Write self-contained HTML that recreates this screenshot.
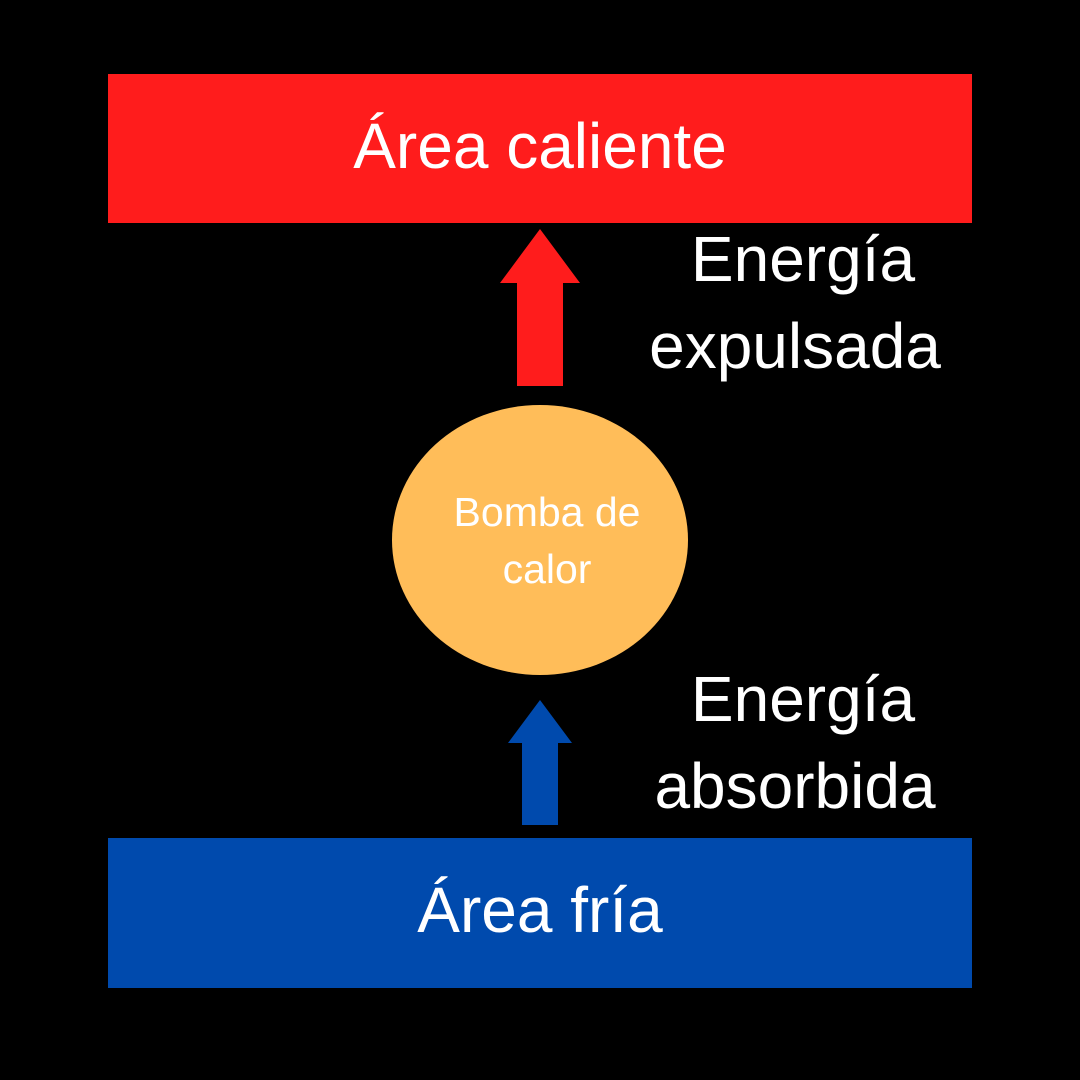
<!DOCTYPE html>
<html><head><meta charset="utf-8"><style>
html,body{margin:0;padding:0;background:#000;}
body{width:1080px;height:1080px;position:relative;overflow:hidden;font-family:"Liberation Sans",sans-serif;color:#fff;}
.t{position:absolute;text-align:center;white-space:nowrap;}
</style></head><body>
<div style="position:absolute;left:108px;top:74px;width:864px;height:149px;background:#ff1c1c"></div>
<div class="t" style="left:108px;width:864px;top:110px;font-size:64px;line-height:72px">Área caliente</div>
<div style="position:absolute;left:108px;top:838px;width:864px;height:150px;background:#004aad"></div>
<div class="t" style="left:108px;width:864px;top:874px;font-size:64px;line-height:72px">Área fría</div>
<svg style="position:absolute;left:0;top:0" width="1080" height="1080">
<polygon points="540,229 580,283 563,283 563,386 517,386 517,283 500,283" fill="#ff1c1c"/>
<polygon points="540,700 572,743 558,743 558,825 522,825 522,743 508,743" fill="#004aad"/>
<ellipse cx="540" cy="540" rx="148" ry="135" fill="#ffbd59"/>
</svg>
<div class="t" style="left:440px;width:214px;top:484px;font-size:41px;line-height:57px">Bomba de<br>calor</div>
<div class="t" style="left:620px;width:350px;top:216px;font-size:64px;line-height:87px"><span style="position:relative;left:8px">Energía</span><br>expulsada</div>
<div class="t" style="left:620px;width:350px;top:656px;font-size:64px;line-height:87px"><span style="position:relative;left:8px">Energía</span><br>absorbida</div>
</body></html>
